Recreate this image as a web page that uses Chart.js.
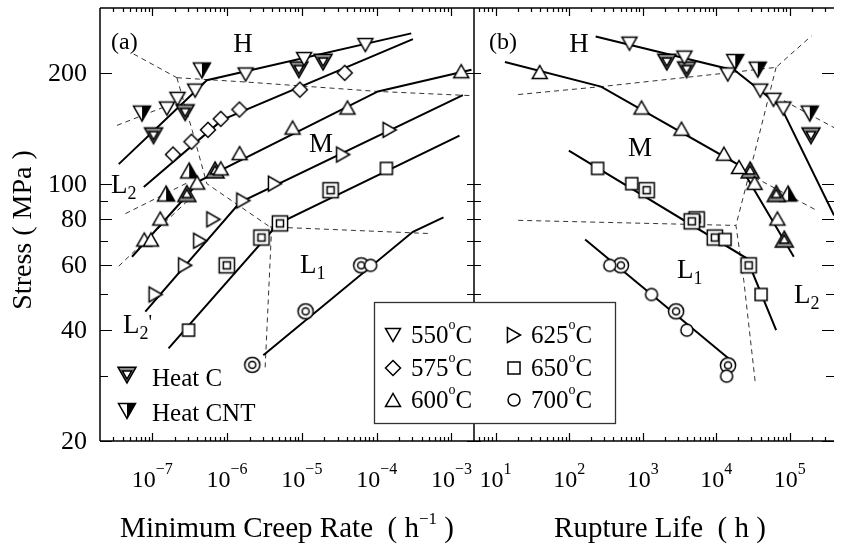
<!DOCTYPE html>
<html lang="en">
<head>
<meta charset="UTF-8">
<title>Stress vs Minimum Creep Rate and Rupture Life</title>
<script src="https://cdn.jsdelivr.net/npm/chart.js"></script>
<style>
    body { margin: 0; background: #fff; }
    .wrap { position: relative; width: 841px; height: 546px; }
    .wrap canvas { position: absolute; left: 0; top: 0; }
</style>
</head>
<body>
<div class="wrap">
    <canvas id="rateChart" width="841" height="546"></canvas>
    <canvas id="lifeChart" width="841" height="546"></canvas>
</div>
<script>
// ---- (a) minimum creep rate [1/h] vs stress [MPa] ----
const rate550 = [[1.57e-7, 160], [2.17e-7, 170], [3.74e-7, 179], [1.77e-6, 198], [1.07e-5, 218], [7.06e-5, 238]];
const rate550C = [[1.04e-7, 135], [2.75e-7, 156], [9.12e-6, 204], [1.92e-5, 214]];
const rate550N = [[7.29e-8, 155], [4.61e-7, 203]];
const rate575 = [[1.89e-7, 120], [3.34e-7, 130], [5.55e-7, 140], [8.24e-7, 150], [1.46e-6, 159], [9.4e-6, 180], [3.74e-5, 200]];
const rate600 = [[7.82e-8, 70.5], [9.6e-8, 70.5], [1.28e-7, 80.4], [3.98e-7, 100.7], [8.24e-7, 110], [1.47e-6, 121], [7.52e-6, 142], [4.07e-5, 161], [1.35e-3, 202]];
const rate600C = [[2.9e-7, 94], [6.92e-7, 109]];
const rate600N = [[1.53e-7, 94], [3.11e-7, 108.6]];
const rate625 = [[1.11e-7, 50], [2.75e-7, 60], [4.37e-7, 70], [6.56e-7, 80], [1.65e-6, 90], [4.37e-6, 100], [3.56e-5, 120], [1.49e-4, 140]];
const rate650 = [[3.05e-7, 40], [1.35e-4, 110]];
const rate650C = [[9.9e-7, 60], [2.88e-6, 71.4], [5.09e-6, 78], [2.42e-5, 96]];
const rate700 = [[8.31e-5, 60]];
const rate700C = [[2.17e-6, 32.2], [1.12e-5, 45], [6.21e-5, 60]];

const fit550a = [[3.56e-8, 113], [5.36e-7, 191], [2.9e-4, 256]];
const fit575a = [[7.7e-8, 98], [8.6e-7, 149], [3.05e-4, 247]];
const fit600a = [[5.36e-8, 63.3], [4.37e-7, 102], [1.04e-4, 178], [1.85e-3, 204]];
const fit625a = [[8.07e-8, 44.9], [1.49e-6, 89], [1.42e-3, 174]];
const fit650a = [[1.65e-7, 35.7], [4.84e-6, 77.9], [1.28e-3, 135]];
const fit700a = [[3.05e-6, 34.2], [3.05e-4, 74], [7.82e-4, 81]];

// regime boundaries (a)
const edgeHa = [[5.63e-8, 225], [2.13e-7, 194]];
const edgeHMa = [[2.13e-7, 194], [2.03e-6, 188.5], [1.04e-4, 178], [1.74e-3, 173.5]];
const edgeL2Ha = [[3.38e-8, 144], [2.36e-7, 168]];
const edgeL2Ma = [[2.13e-7, 194], [3.42e-7, 139.5], [5.36e-7, 100], [3.74e-6, 76.3]];
const edgeL1Ma = [[3.74e-6, 76.3], [5.09e-4, 73.2]];
const edgeL1a = [[3.94e-6, 76], [3.21e-6, 30.9]];
const edgeL2a = [[4.37e-8, 82.9], [2.9e-7, 100.4]];
const edgeL2pa = [[3.56e-8, 59.7], [3.21e-7, 91.2]];

// ---- (b) rupture life [h] vs stress [MPa] ----
const life550 = [[661, 240], [3687, 220], [14320, 198], [39560, 179], [59850, 169], [81470, 160]];
const life550C = [[2122, 214], [3945, 204], [193500, 135]];
const life550N = [[18080, 214], [36640, 204], [186500, 155]];
const life600 = [[39.8, 201], [964, 161], [3362, 141], [12700, 120.6], [20380, 111], [33110, 100.5], [67720, 80.4]];
const life600C = [[28840, 109], [65420, 94], [83950, 70.7]];
const life600N = [[94620, 94]];
const life650 = [[243.6, 110], [709, 100], [13180, 70.5], [40640, 50]];
const life650C = [[5412, 80], [4642, 79], [1130, 96], [9550, 71.4], [27540, 60]];
const life700 = [[357, 60], [1318, 50], [3981, 40], [13800, 30]];
const life700C = [[505, 60], [2840, 45], [14450, 32.1]];

const fit550b = [[229, 251], [17920, 203], [75860, 161.5], [398100, 82]];
const fit600b = [[13.4, 214], [271, 183.5], [20890, 112], [113000, 63.3]];
const fit650b = [[99, 123], [25880, 62.7], [65060, 40]];
const fit700b = [[165, 70.5], [16490, 32.9]];

// regime boundaries (b)
const edgeHMb = [[20.3, 174.6], [275, 183.5], [14450, 200], [65060, 207], [196500, 252]];
const edgeLb = [[65060, 207], [33110, 121], [18490, 77], [23620, 54.7], [34150, 28.4]];
const edgeL1Mb = [[20.3, 79.5], [18490, 77]];
const edgeL2b1 = [[33110, 104], [229100, 84.7]];
const edgeL2b2 = [[83180, 168], [398100, 142]];

// ---- axes ----
const rateRange = [2e-8, 2e-3];
const lifeRange = [5.09, 3.98e5];
const stressRange = [20, 300];
const stressTicks = [20, 30, 40, 50, 60, 70, 80, 90, 100, 200];
const stressLabels = [20, 40, 60, 80, 100, 200];
const rateExps = [-7, -6, -5, -4, -3];
const lifeExps = [1, 2, 3, 4, 5];
const tempsLeft = ['550', '575', '600'];
const tempsRight = ['625', '650', '700'];

const SERIF = "'Liberation Serif', 'Times New Roman', serif";

// marker glyphs
function markerPath(g, shape, c, s) {
    const h = s * 0.875;
    g.beginPath();
    if (shape === 'down') { g.moveTo(c - s, c - h); g.lineTo(c + s, c - h); g.lineTo(c, c + h); }
    else if (shape === 'up') { g.moveTo(c - s, c + h); g.lineTo(c + s, c + h); g.lineTo(c, c - h); }
    else if (shape === 'right') { g.moveTo(c - h, c - s); g.lineTo(c - h, c + s); g.lineTo(c + h, c); }
    else if (shape === 'diamond') { g.moveTo(c, c - s); g.lineTo(c + s, c); g.lineTo(c, c + s); g.lineTo(c - s, c); }
    else if (shape === 'square') { g.rect(c - s * 0.8, c - s * 0.8, s * 1.6, s * 1.6); }
    else { g.arc(c, c, s * 0.8, 0, Math.PI * 2); }
    g.closePath();
}

function makeMarker(shape, kind) {
    const size = 30, c = size / 2;
    const cv = document.createElement('canvas');
    cv.width = size; cv.height = size;
    const g = cv.getContext('2d');
    g.lineWidth = 1.5;
    g.strokeStyle = '#000';
    const tri = shape === 'down' || shape === 'up' || shape === 'right';
    if (kind === 'open') {
        markerPath(g, shape, c, 7.5);
        g.fillStyle = '#fff'; g.fill(); g.stroke();
    } else if (kind === 'heatC') {
        markerPath(g, shape, c, tri ? 9 : 9.5);
        g.fillStyle = tri ? '#8a8a8a' : '#fff'; g.fill(); g.stroke();
        markerPath(g, shape, c, tri ? 4.6 : 4.4);
        g.fillStyle = '#fff'; g.fill(); g.stroke();
    } else {
        markerPath(g, shape, c, 8.5);
        g.fillStyle = '#fff'; g.fill();
        g.save(); g.clip(); g.fillStyle = '#000'; g.fillRect(c, 0, c, size); g.restore();
        markerPath(g, shape, c, 8.5); g.stroke();
    }
    return cv;
}

function pts(data, shape, kind) {
    return { data, pointStyle: makeMarker(shape, kind), pointRadius: 6, showLine: false, order: 0 };
}
function fit(data) {
    return { data, showLine: true, fill: false, borderColor: '#000', borderWidth: 2, pointRadius: 0, order: 1 };
}
function edge(data) {
    return { data, showLine: true, fill: false, borderColor: '#333', borderWidth: 1, borderDash: [5, 4], pointRadius: 0, order: 2 };
}

function textParts(ctx, parts, x, y, align) {
    let total = 0;
    parts.forEach(p => { ctx.font = p[1] + 'px ' + SERIF; p.w = ctx.measureText(p[0]).width; total += p.w; });
    let cx = align === 'center' ? x - total / 2 : x;
    ctx.textAlign = 'left';
    ctx.textBaseline = 'alphabetic';
    parts.forEach(p => { ctx.font = p[1] + 'px ' + SERIF; ctx.fillText(p[0], cx, y + p[2]); cx += p.w; });
}

function drawXAxis(chart, exps) {
    const { ctx, chartArea: a, scales: { x } } = chart;
    ctx.beginPath();
    const e0 = Math.floor(Math.log10(x.min)), e1 = Math.ceil(Math.log10(x.max));
    for (let e = e0; e <= e1; e++) {
        for (let m = 1; m <= 9; m++) {
            const v = m * Math.pow(10, e);
            if (v <= x.min * 1.001 || v >= x.max * 0.999) continue;
            const px = Math.round(x.getPixelForValue(v)) + 0.5;
            const len = m === 1 ? 8 : 4;
            ctx.moveTo(px, a.bottom); ctx.lineTo(px, a.bottom - len);
            ctx.moveTo(px, a.top); ctx.lineTo(px, a.top + len);
        }
    }
    ctx.stroke();
    exps.forEach(e => {
        const px = x.getPixelForValue(Math.pow(10, e));
        const exp = e < 0 ? '\u2212' + (-e) : String(e);
        textParts(ctx, [['10', 24, 0], [exp, 16, -13]], px, 487, 'center');
    });
}

function yTick(ctx, y, v, x0, dir, labeled) {
    const py = Math.round(y.getPixelForValue(v)) + 0.5;
    const len = labeled ? 12 : 8;
    ctx.moveTo(x0, py); ctx.lineTo(x0 + dir * len, py);
}

const rateFrame = {
    id: 'rateFrame',
    afterDraw(chart) {
        const { ctx, chartArea: a, scales: { y } } = chart;
        ctx.save();
        ctx.strokeStyle = '#000';
        ctx.fillStyle = '#000';
        ctx.lineWidth = 1.5;
        ctx.beginPath();
        ctx.moveTo(a.left, a.top); ctx.lineTo(a.right, a.top);
        ctx.moveTo(a.left, a.bottom); ctx.lineTo(a.right, a.bottom);
        ctx.moveTo(a.left, a.top); ctx.lineTo(a.left, a.bottom);
        ctx.moveTo(a.right, a.top); ctx.lineTo(a.right, a.bottom);
        ctx.stroke();
        ctx.lineWidth = 1.2;
        drawXAxis(chart, rateExps);
        ctx.beginPath();
        stressTicks.forEach(v => {
            yTick(ctx, y, v, a.left, 1, stressLabels.includes(v));
            const py = Math.round(y.getPixelForValue(v)) + 0.5;
            ctx.moveTo(a.right - 7, py); ctx.lineTo(a.right + 7, py);
        });
        ctx.stroke();
        ctx.textAlign = 'right';
        ctx.font = '26px ' + SERIF;
        stressLabels.forEach(v => ctx.fillText(String(v), 87, y.getPixelForValue(v) + 8));

        textParts(ctx, [['Minimum Creep Rate  ( h', 29, 0], ['\u22121', 17, -13], [' )', 29, 0]], 287, 537, 'center');
        ctx.save();
        ctx.translate(22, 230);
        ctx.rotate(-Math.PI / 2);
        ctx.textAlign = 'center';
        ctx.font = '28px ' + SERIF;
        ctx.fillText('Stress ( MPa )', 0, 9);
        ctx.restore();

        textParts(ctx, [['(a)', 24, 0]], 111, 49);
        textParts(ctx, [['H', 27, 0]], 243, 52, 'center');
        textParts(ctx, [['M', 27, 0]], 321, 152, 'center');
        textParts(ctx, [['L', 27, 0], ['2', 18, 6]], 111, 193);
        textParts(ctx, [['L', 27, 0], ['2', 18, 6], ["'", 20, -4]], 123, 333);
        textParts(ctx, [['L', 27, 0], ['1', 18, 6]], 300, 273);

        ctx.drawImage(makeMarker('down', 'heatC'), 112, 360);
        ctx.drawImage(makeMarker('down', 'cnt'), 112, 396);
        textParts(ctx, [['Heat C', 25, 0]], 152, 386);
        textParts(ctx, [['Heat CNT', 25, 0]], 152, 421);
        ctx.restore();
    }
};

const lifeFrame = {
    id: 'lifeFrame',
    afterDraw(chart) {
        const { ctx, chartArea: a, scales: { y } } = chart;
        ctx.save();
        ctx.strokeStyle = '#000';
        ctx.fillStyle = '#000';
        ctx.lineWidth = 1.5;
        ctx.beginPath();
        ctx.moveTo(a.left, a.top); ctx.lineTo(a.right, a.top);
        ctx.moveTo(a.left, a.bottom); ctx.lineTo(a.right, a.bottom);
        ctx.stroke();
        ctx.lineWidth = 1.2;
        drawXAxis(chart, lifeExps);
        ctx.beginPath();
        stressTicks.forEach(v => yTick(ctx, y, v, a.right, -1, stressLabels.includes(v)));
        ctx.stroke();

        textParts(ctx, [['Rupture Life  ( h )', 29, 0]], 660, 537, 'center');
        textParts(ctx, [['(b)', 24, 0]], 489, 49);
        textParts(ctx, [['H', 27, 0]], 579, 52, 'center');
        textParts(ctx, [['M', 27, 0]], 640, 156, 'center');
        textParts(ctx, [['L', 27, 0], ['1', 18, 6]], 677, 278);
        textParts(ctx, [['L', 27, 0], ['2', 18, 6]], 794, 303);

        // temperature key, spanning both panels
        ctx.fillStyle = '#fff';
        ctx.fillRect(374, 303, 241, 120);
        ctx.strokeStyle = '#333';
        ctx.lineWidth = 1.3;
        ctx.strokeRect(374.5, 302.5, 241, 121);
        ctx.fillStyle = '#000';
        const rows = [343, 376, 408];
        const shapesL = ['down', 'diamond', 'up'];
        const shapesR = ['right', 'square', 'circle'];
        rows.forEach((b, i) => {
            ctx.drawImage(makeMarker(shapesL[i], 'open'), 393 - 15, b - 8 - 15);
            ctx.drawImage(makeMarker(shapesR[i], 'open'), 514 - 15, b - 8 - 15);
            textParts(ctx, [[tempsLeft[i], 25, 0], ['o', 14, -14], ['C', 25, 0]], 411, b);
            textParts(ctx, [[tempsRight[i], 25, 0], ['o', 14, -14], ['C', 25, 0]], 531, b);
        });
        ctx.restore();
    }
};

function options(xRange, padding) {
    return {
        responsive: false,
        animation: false,
        devicePixelRatio: 1,
        events: [],
        layout: { padding },
        plugins: { legend: { display: false }, tooltip: { enabled: false } },
        scales: {
            x: { type: 'logarithmic', bounds: 'data', min: xRange[0], max: xRange[1], display: false },
            y: { type: 'logarithmic', bounds: 'data', min: stressRange[0], max: stressRange[1], display: false }
        }
    };
}

new Chart(document.getElementById('rateChart'), {
    type: 'scatter',
    data: {
        datasets: [
            pts(rate550, 'down', 'open'), pts(rate550C, 'down', 'heatC'), pts(rate550N, 'down', 'cnt'),
            pts(rate575, 'diamond', 'open'),
            pts(rate600, 'up', 'open'), pts(rate600C, 'up', 'heatC'), pts(rate600N, 'up', 'cnt'),
            pts(rate625, 'right', 'open'),
            pts(rate650, 'square', 'open'), pts(rate650C, 'square', 'heatC'),
            pts(rate700, 'circle', 'open'), pts(rate700C, 'circle', 'heatC'),
            fit(fit550a), fit(fit575a), fit(fit600a), fit(fit625a), fit(fit650a), fit(fit700a),
            edge(edgeHa), edge(edgeHMa), edge(edgeL2Ha), edge(edgeL2Ma),
            edge(edgeL1Ma), edge(edgeL1a), edge(edgeL2a), edge(edgeL2pa)
        ]
    },
    options: options(rateRange, { left: 100, right: 367, top: 8, bottom: 105 }),
    plugins: [rateFrame]
});

new Chart(document.getElementById('lifeChart'), {
    type: 'scatter',
    data: {
        datasets: [
            pts(life550, 'down', 'open'), pts(life550C, 'down', 'heatC'), pts(life550N, 'down', 'cnt'),
            pts(life600, 'up', 'open'), pts(life600C, 'up', 'heatC'), pts(life600N, 'up', 'cnt'),
            pts(life650, 'square', 'open'), pts(life650C, 'square', 'heatC'),
            pts(life700, 'circle', 'open'), pts(life700C, 'circle', 'heatC'),
            fit(fit550b), fit(fit600b), fit(fit650b), fit(fit700b),
            edge(edgeHMb), edge(edgeLb), edge(edgeL1Mb), edge(edgeL2b1), edge(edgeL2b2)
        ]
    },
    options: options(lifeRange, { left: 474, right: 0, top: 8, bottom: 105 }),
    plugins: [lifeFrame]
});
</script>
</body>
</html>
